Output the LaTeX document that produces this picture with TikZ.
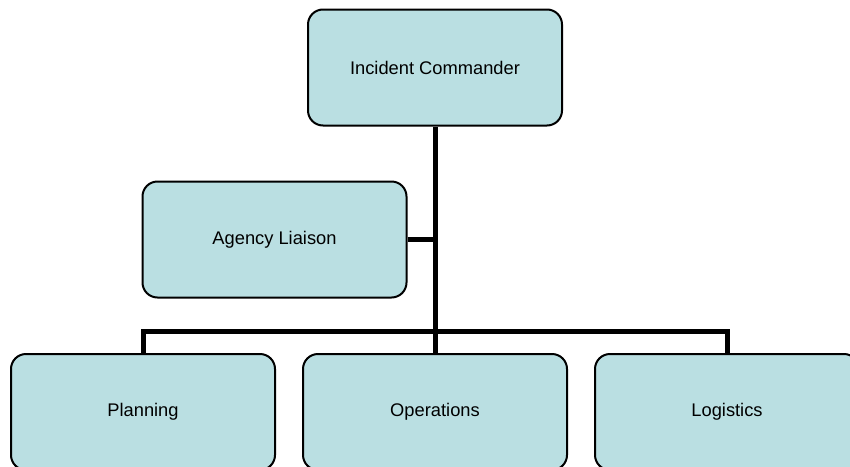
\documentclass[tikz,border=0pt]{standalone}
\usepackage{fontspec}
\setmainfont{Liberation Sans}
\definecolor{boxfill}{RGB}{186,223,226}

\begin{document}
\begin{tikzpicture}[x=1pt, y=1pt,
		unit/.style={draw=black, line width=2pt, fill=boxfill, rounded corners=15pt, minimum width=264pt, minimum height=116pt, inner sep=0pt, font=\fontsize{18.3}{22}\selectfont},
		link/.style={line width=5pt}]
			%%%%% START %%%%%
			
			\useasboundingbox (0, 0) rectangle (850, -466);
			
			\node[unit, minimum width=254pt] (ic) at (435, -67.5) {Incident Commander};
			\node[unit] (liaison) at (274.5, -239.5) {Agency Liaison};
			
			\node[unit] (planning) at (143, -412) {Planning};
			\node[unit] (operations) at (435, -412) {Operations};
			\node[unit] (logistics) at (727, -412) {Logistics};
			
			\coordinate (bar) at (435, -331);
			
			\draw[link] (ic.south) -- (operations.north);
			\draw[link] (liaison.east) -- (liaison.east -| ic.south);
			\draw[link] (planning.north) -- (planning.north |- bar) -- (logistics.north |- bar) -- (logistics.north);
			
			%%%%% END %%%%%
		\end{tikzpicture}
\end{document}
